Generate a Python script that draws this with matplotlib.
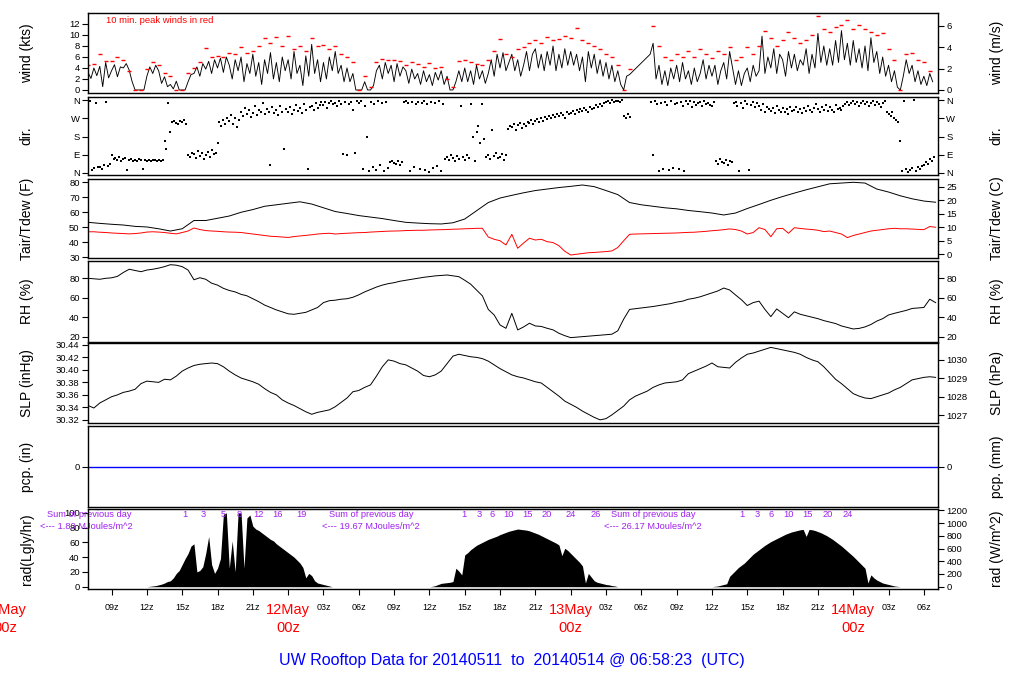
import numpy as np
import matplotlib.pyplot as plt
from matplotlib.transforms import blended_transform_factory

plt.rcParams['font.family'] = ['Liberation Sans', 'DejaVu Sans']

# all times are hours from 2014-05-12 00z, first sample at 11May ~07z
T0 = -17.0
nan = float('nan')

# wind speed (kts), every 15 min
wind_kts = [
    3.2, 2.1, 4.0, 2.6,  4.3, 0.6, 5.0, 2.2,  3.5, 4.6, 2.4, 4.2,  4.0, 4.8, 3.6, 1.5,
    0, 0, 0, 0,  2.5, 4.2, 3.0, 4.5,  3.5, 1.2, 2.4, 0.6,  1.0, 0.2, 1.6, 0,
    0, 0, 1.5, 2.8,  3.0, 4.2, 2.5, 4.8,  3.8, 5.2, 3.0, 5.5,  4.0, 5.8, 3.2, 6.0,
    4.5, 2.0, 5.5, 3.5,  6.0, 1.5, 4.8, 3.0,  6.5, 2.5, 5.0, 1.0,  5.5, 3.0, 6.8, 2.0,
    5.0, 1.5, 6.0, 3.5,  5.5, 2.0, 7.0, 3.0,  4.5, 0.8, 6.2, 2.5,  8.3, 3.0, 5.5, 1.5,
    5.0, 2.0, 6.0, 3.5,  7.0, 3.0, 4.5, 1.5,  4.0, 1.5, 3.0, 0,  0, 0, 1.5, 0,
    0, 0.8, 3.5, 4.5,  2.0, 5.0, 3.0, 4.5,  1.5, 4.8, 2.5, 4.2,  3.5, 1.2, 3.8, 2.0,
    3.0, 1.0, 3.5, 1.5,  2.8, 0.8, 3.2, 1.8,  3.5, 1.0, 2.5, 0,  0, 1.5, 3.5, 1.5,
    4.0, 1.5, 3.5, 1.0,  4.5, 2.0, 3.5, 1.2,  3.0, 5.5, 2.5, 6.5,  4.0, 6.8, 3.5, 5.0,
    6.5, 3.5, 5.5, 2.5,  4.5, 7.0, 3.5, 6.5,  7.5, 4.0, 6.5, 3.5,  7.0, 4.5, 8.0, 3.5,
    6.5, 4.0, 7.5, 4.5,  7.0, 4.5, 6.5, 3.5,  6.0, 1.5, 7.0, 4.0,  6.5, 3.0, 5.5, 2.5,
    5.0, 2.0, 4.5, 1.5,  3.5, 1.0, 0, 2.5,  2.8, nan, nan, nan,  nan, nan, nan, 6.5,
    8.5, 2.0, 4.5, 1.0,  3.5, 0.8, 4.0, 2.0,  4.5, 1.5, 5.0, 2.0,  3.5, 1.0, 4.0, 1.5,
    3.0, 5.5, 2.0, 4.5,  2.5, 4.5, 1.0, 3.5,  5.0, 2.0, 7.0, 4.0,  1.0, 3.5, 0.8, 3.0,
    4.0, 1.5, 4.5, 2.5,  3.5, 9.8, 3.0, 6.0,  4.0, 7.5, 3.0, 6.5,  5.5, 2.5, 7.0, 4.0,
    6.5, 3.5, 5.5, 4.5,  7.5, 3.0, 6.5, 4.0,  10.3, 5.0, 8.0, 4.5,  7.5, 4.5, 9.0, 5.0,
    10.8, 5.5, 8.5, 4.5,  9.0, 5.0, 7.5, 4.0,  8.0, 3.5, 9.5, 5.0,  7.0, 3.0, 6.0, 2.5,
    4.5, 1.5, 3.5, 0.5,  0, 2.5, 5.5, 3.0,  4.5, 1.5, 3.5, 1.0,  2.5, 0.8, 3.0, 1.5,
]

# 10 min peak winds (kts), plotted every 30 min
wind_peak = [
    4.5, 4.7, 6.6, 5.2, 5.3, 6.0, 5.5, 3.5, 0, 0, 3.8, 5.0, 4.5, 3.0, 2.6, 0,
    0, 3.0, 4.0, 5.0, 7.6, 6.0, 6.2, 6.0, 6.7, 6.5, 7.9, 6.8, 7.0, 8.0, 9.4, 8.5,
    9.6, 8.0, 9.8, 7.5, 8.0, 7.0, 9.5, 8.0, 8.2, 7.5, 8.0, 6.5, 6.0, 5.0, 0, 2.5,
    0.5, 5.0, 5.6, 5.5, 5.5, 5.3, 4.5, 5.0, 4.8, 4.2, 4.9, 4.0, 4.2, 2.0, 0.5, 5.3,
    5.5, 5.0, 4.8, 4.5, 5.5, 7.0, 9.2, 6.5, 6.0, 7.5, 7.8, 8.5, 9.0, 8.5, 9.6, 9.0,
    9.3, 9.8, 9.5, 11.2, 9.0, 8.5, 8.0, 7.5, 6.5, 6.0, 4.5, 0, 3.8, nan, nan, nan,
    11.6, 8.0, 6.0, 5.5, 6.5, 6.0, 7.0, 6.0, 7.5, 6.5, 5.8, 7.0, 6.5, 7.8, 5.5, 6.0,
    7.8, 6.5, 8.0, 10.7, 9.5, 8.0, 9.0, 10.5, 9.5, 8.5, 9.0, 10.0, 13.4, 11.0, 10.5, 11.5,
    11.8, 12.8, 11.0, 11.9, 11.1, 10.5, 10.0, 10.3, 7.5, 5.5, 0, 6.5, 6.8, 5.5, 5.0, 3.5,
]

# wind direction (deg), every 10 min
wind_dir = [
    20, 355, 15, 25, 345, 30,  30, 20, 40, 350, 35, 45,  90, 70, 75, 65, 80, 60,
    70, 75, 15, 65, 70, 60,  65, 60, 70, 62, 20, 66,  60, 64, 58, 66, 62, 60,
    65, 58, 62, 160, 120, 345,  200, 250, 255, 245, 240, 258,  250, 262, 240, 90, 80, 100,
    95, 75, 110, 85, 100, 70,  90, 105, 80, 115, 95, 100,  147, 250, 230, 260, 240, 270,
    255, 285, 240, 270, 225, 262,  300, 280, 320, 290, 310, 275,  295, 330, 285, 310, 300, 345,
    290, 315, 300, 40, 325, 295,  310, 285, 330, 300, 120, 315,  300, 325, 290, 310, 335, 305,
    320, 295, 340, 310, 20, 325,  330, 310, 345, 320, 335, 350,  335, 350, 320, 345, 355, 340,
    345, 330, 355, 340, 95, 350,  90, 340, 350, 310, 100, 355,  345, 355, 20, 330, 180, 10,
    350, 30, 340, 15, 355, 40,  345, 10, 350, 25, 55, 60,  50, 45, 60, 40, 55, 350,
    355, 345, 10, 350, 30, 340,  350, 20, 345, 355, 15, 340,  5, 350, 25, 345, 35, 355,
    10, 340, 70, 80, 65, 90,  75, 60, 85, 70, 330, 80,  65, 90, 75, 340, 180, 60,
    200, 230, 150, 340, 170, 80,  90, 70, 210, 85, 100, 75,  80, 95, 65, 90, 215, 230,
    225, 240, 210, 235, 245, 220,  240, 230, 250, 245, 260, 240,  255, 265, 250, 270, 258, 275,
    265, 280, 270, 285, 275, 290,  280, 295, 285, 270, 300, 290,  295, 305, 290, 310, 300, 315,
    305, 320, 310, 300, 325, 315,  320, 335, 325, 340, 330, 345,  350, 355, 345, 358, 352, 356,
    355, 350, 358, 280, 270, 290,  275, nan, nan, nan, nan, nan,  nan, nan, nan, nan, nan, 350,
    90, 355, 340, 10, 345, 20,  350, 335, 15, 355, 25, 340,  345, 20, 350, 330, 10, 355,
    340, 355, 325, 350, 335, 345,  350, 330, 355, 340, 345, 335,  330, 350, 60, 45, 70, 55,
    50, 65, 40, 60, 55, 345,  350, 330, 10, 345, 320, 355,  340, 15, 335, 350, 325, 345,
    330, 310, 340, 300, 325, 315,  305, 320, 295, 330, 310, 300,  320, 300, 315, 290, 325, 305,
    310, 325, 300, 315, 295, 320,  305, 330, 310, 300, 320, 340,  315, 300, 325, 310, 335, 305,
    325, 310, 300, 335, 315, 320,  310, 330, 340, 350, 335, 345,  355, 340, 350, 330, 345, 355,
    340, 350, 330, 345, 355, 335,  350, 340, 325, 345, 355, 300,  290, 280, 300, 270, 260, 250,
    160, 10, 355, 20, 5, 15,  25, 358, 10, 30, 20, 35,  40, 55, 45, 70, 60, 80,
]

# air temperature (F), hourly
tair_f = [
    53.3, 52.6, 52.0, 51.5, 50.6, 50.2, 49.0, 47.5, 49.0, 54.5, 54.5, 56.0, 57.5, 60.0, 61.8,
    64.0, 65.0, 66.0, 67.0, 65.5, 63.0, 60.5, 59.2, 57.8, 56.8, 55.8, 54.5, 53.3, 52.8, 52.4,
    52.2, 53.0, 55.5, 61.0, 66.5, 69.5, 71.3, 73.0, 74.5, 75.5, 76.5, 77.3, 78.2, 77.1, 74.5,
    71.8, 66.5, 65.0, 64.0, 63.0, 62.3, 61.2, 60.4, 59.5, 58.2, 59.5, 62.5, 65.2, 68.0, 70.5,
    72.8, 75.0, 77.0, 79.0, 79.5, 80.0, 79.5, 75.5, 73.5, 71.0, 69.0, 67.5, 66.7,
]

# dew point (F), every 30 min
tdew_f = [
    47.0, 47.0, 46.7, 46.5, 46.2, 46.0, 45.8, 45.6, 45.8, 46.2, 46.8, 47.0, 46.8, 46.5,
    46.0, 45.6, 46.5, 47.5, 49.5, 48.5, 47.8, 47.5, 47.3, 47.0, 46.8, 46.7, 46.5, 46.0,
    45.5, 45.0, 44.5, 44.0, 43.8, 43.5, 43.2, 43.8, 44.2, 44.6, 45.0, 45.5, 45.8, 46.0,
    45.5, 45.8, 46.0, 46.2, 46.4, 46.5, 46.8, 47.0, 47.2, 47.4, 47.5, 47.6, 47.8, 47.9,
    48.0, 48.0, 48.2, 48.3, 48.4, 48.5, 48.7, 48.8, 49.0, 49.1, 49.3, 49.3, 43.5, 42.0,
    41.0, 38.2, 45.3, 36.0, 39.5, 42.7, 41.5, 42.0, 40.4, 39.8, 37.7, 34.0, 31.5, 32.0,
    32.5, 33.0, 33.2, 33.5, 33.8, 34.2, 36.5, 41.0, 45.3, 45.5, 45.6, 45.7, 45.8, 45.9,
    46.0, 46.1, 46.2, 46.4, 46.6, 46.7, 47.0, 47.3, 47.7, 48.0, 48.4, 48.9, 48.5, 47.5,
    45.5, 46.5, 49.7, 48.5, 43.7, 49.0, 49.3, 46.0, 49.7, 49.2, 48.8, 48.5, 48.0, 47.1,
    47.5, 46.5, 45.5, 43.1, 44.5, 45.5, 46.5, 47.5, 48.0, 48.5, 49.0, 49.3, 49.0, 49.0,
    48.8, 48.6, 48.4, 50.5, 50.0,
]

# relative humidity (%), every 30 min
rh_pct = [
    80.0, 79.5, 79.0, 80.0, 80.5, 82.0, 86.0, 89.3, 88.0, 86.8, 88.5, 89.3, 90.5, 92.0,
    94.0, 93.5, 92.0, 88.5, 78.5, 80.6, 79.0, 75.0, 73.0, 69.7, 67.5, 66.0, 63.5, 62.0,
    59.0, 56.0, 52.5, 50.0, 47.5, 45.5, 43.5, 43.0, 44.0, 45.0, 47.5, 50.0, 55.0, 57.0,
    57.5, 58.5, 59.0, 60.5, 63.0, 66.0, 68.5, 71.0, 73.0, 74.5, 75.5, 77.0, 78.0, 79.0,
    80.0, 81.0, 81.8, 82.5, 83.0, 83.4, 82.5, 81.7, 78.0, 74.0, 68.0, 62.0, 48.0, 42.3,
    32.0, 28.6, 44.0, 26.9, 30.0, 33.8, 31.0, 30.5, 28.6, 27.0, 23.5, 21.0, 19.0, 19.5,
    20.0, 20.5, 21.0, 21.5, 22.0, 22.5, 26.0, 38.0, 48.0, 48.8, 49.5, 50.2, 51.0, 52.0,
    53.0, 54.0, 55.5, 56.5, 58.5, 59.5, 61.0, 63.0, 65.0, 67.0, 70.0, 68.0, 62.9, 58.0,
    52.0, 55.0, 56.5, 48.0, 40.6, 48.5, 44.0, 39.5, 45.5, 43.0, 41.5, 40.0, 38.5, 36.5,
    35.0, 33.5, 31.0, 29.5, 27.9, 28.5, 30.0, 32.5, 36.0, 38.5, 42.3, 44.0, 45.5, 47.0,
    49.0, 49.5, 50.0, 58.5, 55.0,
]

# sea level pressure (inHg), every 30 min
slp_inhg = [
    30.343, 30.339, 30.347, 30.352, 30.357, 30.360, 30.364, 30.366, 30.369, 30.378,
    30.382, 30.381, 30.380, 30.385, 30.384, 30.390, 30.398, 30.403, 30.407, 30.409,
    30.410, 30.411, 30.410, 30.405, 30.398, 30.392, 30.387, 30.384, 30.381, 30.377,
    30.370, 30.364, 30.360, 30.352, 30.347, 30.343, 30.338, 30.333, 30.329, 30.332,
    30.334, 30.336, 30.341, 30.348, 30.355, 30.365, 30.367, 30.372, 30.376, 30.390,
    30.405, 30.416, 30.414, 30.410, 30.408, 30.403, 30.398, 30.391, 30.389, 30.392,
    30.398, 30.410, 30.422, 30.425, 30.423, 30.421, 30.420, 30.418, 30.414, 30.408,
    30.402, 30.397, 30.392, 30.389, 30.387, 30.384, 30.381, 30.379, 30.372, 30.365,
    30.358, 30.350, 30.345, 30.340, 30.334, 30.329, 30.324, 30.320, 30.322, 30.328,
    30.335, 30.342, 30.352, 30.358, 30.362, 30.366, 30.372, 30.376, 30.379, 30.380,
    30.381, 30.384, 30.394, 30.398, 30.402, 30.406, 30.411, 30.405, 30.404, 30.403,
    30.412, 30.419, 30.425, 30.427, 30.430, 30.433, 30.436, 30.434, 30.432, 30.430,
    30.428, 30.425, 30.420, 30.416, 30.413, 30.405, 30.395, 30.385, 30.378, 30.370,
    30.362, 30.358, 30.355, 30.354, 30.357, 30.360, 30.363, 30.368, 30.372, 30.378,
    30.384, 30.386, 30.388, 30.389, 30.388,
]

# solar radiation (Langley/hr), every 15 min during daylight
rad_day1 = [
    0, 0.5, 1, 1.5, 2.5, 3.5, 5, 7, 8, 12, 18, 22, 30, 38, 45, 55,
    58, 20, 22, 27, 45, 68, 30, 18, 25, 38, 98, 100, 25, 62, 20, 100,
    100, 25, 93, 97, 82, 78, 76, 73, 70, 67, 64, 62, 58, 55, 52, 49,
    46, 43, 40, 36, 32, 26, 12, 18, 15, 8, 5, 4, 3, 2, 1, 0,
]
rad_day2 = [
    0, 0.5, 1.5, 3, 4.5, 5, 5.5, 6, 7, 25, 21, 16, 43, 46, 50, 53,
    56, 58, 60, 62, 64, 65.5, 67, 68.5, 70.5, 72, 73.5, 75, 76, 77, 78, 77.5,
    77, 76.5, 75.5, 74, 72.5, 71, 69, 67, 65, 63, 61, 59, 56.5, 42, 52, 49,
    45, 41, 37, 33, 28, 5, 18, 13, 8, 6, 5, 4, 3, 2.5, 1.5, 1,
]
rad_day3 = [
    0, 0.5, 1, 2, 3, 4, 14, 18, 22, 26, 29, 32, 36, 40, 44, 47,
    50, 53, 56, 58.5, 61, 63, 65, 67, 69, 71, 72.5, 74, 75, 76, 77, 77.5,
    68, 77.5, 77, 76, 74.5, 73, 71, 69, 66.5, 64, 61, 58, 55, 51.5, 48, 44.5,
    41, 37, 33, 29, 25, 5, 16, 12, 9, 7, 5, 4, 3, 2, 1, 0.5,
]
rad_lgly = [0.0] * 20 + rad_day1 + [0.0] * 32 + rad_day2 + [0.0] * 32 + rad_day3 + [0.0] * 12

# daily totals and hourly accumulation labels (MJ/m^2)
sum_hours = [-20.5, 3.5, 27.4]
sum_values = ['1.80', '19.67', '26.17']
acc_hours = [-8.75, -7.25, -5.55, -4.16, -2.55, -0.88, 1.1,
             14.9, 16.2, 17.3, 18.7, 20.3, 22.0, 24.0, 26.1,
             38.5, 39.8, 41.0, 42.5, 44.1, 45.8, 47.5]
acc_labels = ['1', '3', '5', '8', '12', '16', '19',
              '1', '3', '6', '10', '15', '20', '24', '26',
              '1', '3', '6', '10', '15', '20', '24']

day_hours = [-24, 0, 24, 48]
day_names = ['11May', '12May', '13May', '14May']

t15 = T0 + 0.25 * np.arange(len(wind_kts))
t30 = T0 + 0.5 * np.arange(len(wind_peak))
t10 = T0 + np.arange(len(wind_dir)) / 6.0
t60 = T0 + np.arange(len(tair_f))
t30b = T0 + 0.5 * np.arange(len(tdew_f))
trad = T0 + 0.25 * np.arange(len(rad_lgly))

wk = np.array(wind_kts)
ok = np.isfinite(wk)

fig = plt.figure(figsize=(10.24, 7.0), dpi=100)
panel_px = [(13, 93), (97, 175), (179, 258), (261, 342), (343, 423), (426, 507), (509, 589)]
L, R = 88 / 1024, 938 / 1024
xlim = (-17.0, 55.2)

axes = []
twins = []
for top, bot in panel_px:
    ax = fig.add_axes([L, 1 - bot / 700, R - L, (bot - top) / 700])
    ax.set_xlim(xlim)
    ax.tick_params(axis='x', bottom=False, labelbottom=False)
    ax.tick_params(axis='y', labelsize=6.8, length=4, width=0.8, pad=2)
    for s in ax.spines.values():
        s.set_color('#303030')
        s.set_linewidth(1.0)
    axr = ax.twinx()
    axr.tick_params(axis='y', labelsize=6.8, length=4, width=0.8, pad=2)
    axes.append(ax)
    twins.append(axr)

lab_kw = dict(fontsize=10)

# wind
ax = axes[0]
ax.plot(t15[ok], wk[ok], color='black', lw=0.65)
ax.plot(t30, wind_peak, ls='none', marker='_', ms=2.8, mew=1.0, color='red')
ax.set_ylim(-0.55, 14.0)
ax.set_yticks([0, 2, 4, 6, 8, 10, 12])
ax.text(-15.46, 12.7, '10 min. peak winds in red', color='red', fontsize=6.8, va='center')
ax.set_ylabel('wind (kts)', **lab_kw)
twins[0].set_ylim(-0.55 / 1.9438, 14.0 / 1.9438)
twins[0].set_yticks([0, 2, 4, 6])
twins[0].set_ylabel('wind (m/s)', **lab_kw)

# direction
ax = axes[1]
ax.plot(t10, wind_dir, ls='none', marker='s', ms=2.0, mew=0, color='black')
for a in (ax, twins[1]):
    a.set_ylim(-10, 375)
    a.set_yticks([0, 90, 180, 270, 360])
    a.set_yticklabels(['N', 'E', 'S', 'W', 'N'])
ax.set_ylabel('dir.', **lab_kw)
twins[1].set_ylabel('dir.', **lab_kw)

# temperature / dew point
ax = axes[2]
ax.plot(t60, tair_f, color='black', lw=0.7)
ax.plot(t30b, tdew_f, color='red', lw=0.7)
ax.set_ylim(29.5, 82.2)
ax.set_yticks([30, 40, 50, 60, 70, 80])
ax.set_ylabel('Tair/Tdew (F)', **lab_kw)
twins[2].set_ylim((29.5 - 32) * 5 / 9, (82.2 - 32) * 5 / 9)
twins[2].set_yticks([0, 5, 10, 15, 20, 25])
twins[2].set_ylabel('Tair/Tdew (C)', **lab_kw)

# relative humidity
ax = axes[3]
ax.plot(t30b, rh_pct, color='black', lw=0.7)
for a in (ax, twins[3]):
    a.set_ylim(14.5, 97.8)
    a.set_yticks([20, 40, 60, 80])
ax.set_ylabel('RH (%)', **lab_kw)
twins[3].set_ylabel('RH (%)', **lab_kw)

# pressure
ax = axes[4]
ax.plot(t30b, slp_inhg, color='black', lw=0.7)
ax.set_ylim(30.315, 30.443)
ax.set_yticks([30.32, 30.34, 30.36, 30.38, 30.40, 30.42, 30.44])
ax.set_yticklabels(['30.32', '30.34', '30.36', '30.38', '30.40', '30.42', '30.44'])
ax.set_ylabel('SLP (inHg)', **lab_kw)
twins[4].set_ylim(30.315 * 33.8639, 30.443 * 33.8639)
twins[4].set_yticks([1027, 1028, 1029, 1030])
twins[4].set_ylabel('SLP (hPa)', **lab_kw)

# precipitation
ax = axes[5]
ax.axhline(0, color='#0000ff', lw=1.0)
for a in (ax, twins[5]):
    a.set_ylim(-1, 1)
    a.set_yticks([0])
ax.set_ylabel('pcp. (in)', **lab_kw)
twins[5].set_ylabel('pcp. (mm)', **lab_kw)

# radiation
ax = axes[6]
ax.fill_between(trad, rad_lgly, 0, color='black', lw=0)
ax.set_ylim(-3.1, 105.1)
ax.set_yticks([0, 20, 40, 60, 80, 100])
ax.set_ylabel('rad(Lgly/hr)', **lab_kw)
twins[6].set_ylim(-3.1 * 11.63, 105.1 * 11.63)
twins[6].set_yticks([0, 200, 400, 600, 800, 1000, 1200])
twins[6].set_ylabel('rad (W/m^2)', **lab_kw)

purple = '#a020f0'
for h, v in zip(sum_hours, sum_values):
    ax.text(h, 97, 'Sum of previous day', color=purple, fontsize=6.7, va='center', clip_on=False)
    ax.text(h - 0.6, 82, '<--- ' + v + ' MJoules/m^2', color=purple, fontsize=6.7,
            va='center', clip_on=False)
for h, s in zip(acc_hours, acc_labels):
    ax.text(h, 97, s, color=purple, fontsize=6.7, ha='center', va='center')

xt = list(range(-15, 55, 3))
ax.set_xticks(xt)
ax.set_xticklabels(['' if h % 24 == 0 else '%02dz' % (h % 24) for h in xt])
ax.tick_params(axis='x', bottom=True, labelbottom=True, labelsize=6.5, length=4, pad=6)
tr = blended_transform_factory(ax.transData, ax.transAxes)
for h, name in zip(day_hours, day_names):
    ax.text(h, -0.2625, name, color='red', fontsize=10.5, ha='center', va='center',
            transform=tr, clip_on=False)
    ax.text(h, -0.4875, '00z', color='red', fontsize=10.5, ha='center', va='center',
            transform=tr, clip_on=False)

for a in axes:
    a.yaxis.set_label_coords(-0.064, 0.5)
for a in twins:
    a.yaxis.set_label_coords(1.061, 0.5)

fig.text(0.5, 1 - 660 / 700, 'UW Rooftop Data for 20140511  to  20140514 @ 06:58:23  (UTC)',
         color='blue', fontsize=11.5, ha='center', va='center')

fig.savefig('out.png', dpi=100)
